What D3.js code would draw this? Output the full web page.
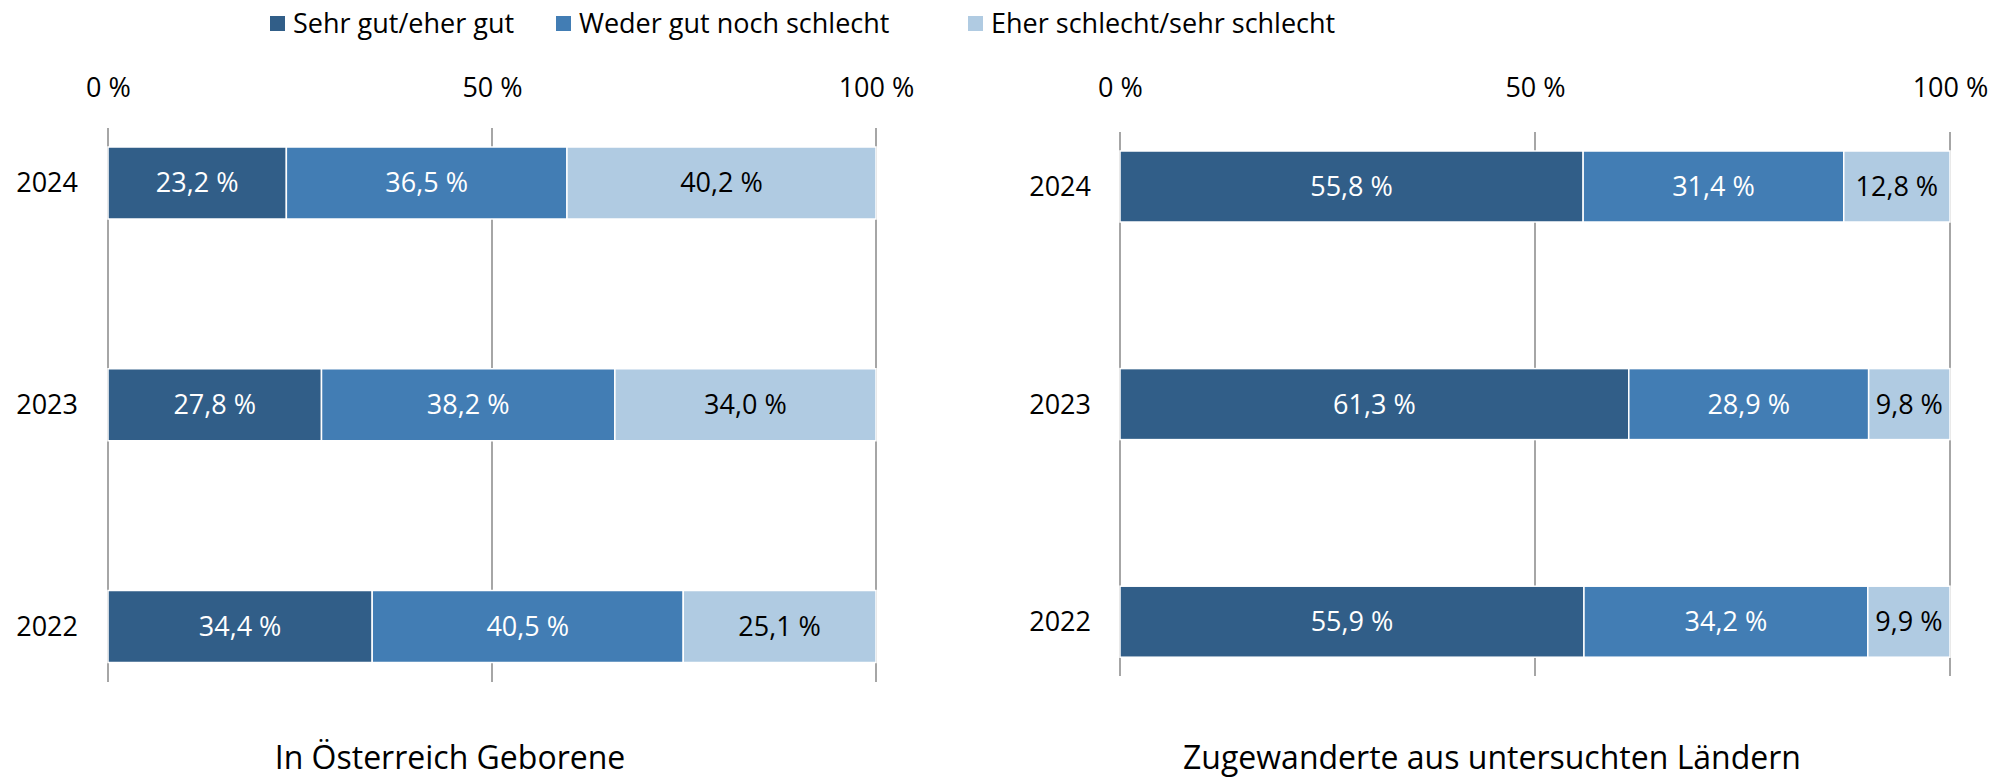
<!DOCTYPE html>
<html>
<head>
<meta charset="utf-8">
<script src="https://cdn.jsdelivr.net/npm/d3@7"></script>
<style>
  body { margin: 0; background: #fff; }
  svg text { font-family: "Open Sans", Lato, sans-serif; }
</style>
</head>
<body>
<svg width="2005" height="778"></svg>
<script>
const categories = ["Sehr gut/eher gut", "Weder gut noch schlecht", "Eher schlecht/sehr schlecht"];
const years = ["2024", "2023", "2022"];
const tickValues = [0, 0.5, 1];
const tickLabels = ["0 %", "50 %", "100 %"];
// values per year, same order as categories
const geboren = [
  [23.2, 36.5, 40.2],
  [27.8, 38.2, 34.0],
  [34.4, 40.5, 25.1]
];
const zugewandert = [
  [55.8, 31.4, 12.8],
  [61.3, 28.9, 9.8],
  [55.9, 34.2, 9.9]
];
const titles = ["In Österreich Geborene", "Zugewanderte aus untersuchten Ländern"];

const colors = ["#315e88", "#427db4", "#b0cbe2"];
const labelColors = ["#fff", "#fff", "#000"];
const svg = d3.select("svg");
const fs = 27;

// panel geometry
const panels = [
  { data: geboren, x0: 108, x1: 876, gridTop: 128, gridBottom: 682, yTop: 183, yBottom: 626.5, barH: 72,
    yearX: 78, titleX: 450, title: titles[0] },
  { data: zugewandert, x0: 1120, x1: 1950, gridTop: 132, gridBottom: 676, yTop: 186.5, yBottom: 621.7, barH: 71,
    yearX: 1091, titleX: 1492, title: titles[1] }
];

const drawPanel = p => {
  const g = svg.append("g");
  const xScale = d3.scaleLinear().domain([0, 1]).range([p.x0, p.x1]);
  const yScale = d3.scalePoint().domain(years).range([p.yTop, p.yBottom]);

  const rows = p.data.map((v, i) => {
    const r = { year: years[i] };
    categories.forEach((c, j) => (r[c] = v[j]));
    return r;
  });
  const series = d3.stack().keys(categories).offset(d3.stackOffsetExpand)(rows);

  // gridlines
  g.selectAll("line.grid")
    .data(tickValues)
    .enter()
    .append("line")
    .attr("x1", d => xScale(d))
    .attr("x2", d => xScale(d))
    .attr("y1", p.gridTop)
    .attr("y2", p.gridBottom)
    .attr("stroke", "#a6a6a6")
    .attr("stroke-width", 2);

  // top axis labels
  const xAxis = d3.axisTop(xScale).tickValues(tickValues).tickFormat((d, i) => tickLabels[i]).tickSize(0).tickPadding(0);
  const ax = g.append("g").attr("transform", "translate(0,88)").call(xAxis);
  ax.select(".domain").remove();
  ax.selectAll("text")
    .attr("font-size", fs)
    .attr("fill", "#000")
    .attr("dy", "0.35em")
    .attr("font-family", "'Open Sans', sans-serif");

  // year labels
  g.selectAll("text.year")
    .data(years)
    .enter()
    .append("text")
    .attr("x", p.yearX)
    .attr("y", d => yScale(d))
    .attr("dy", "0.35em")
    .attr("text-anchor", "end")
    .attr("font-size", fs)
    .text(d => d);

  // bars
  series.forEach((s, k) => {
    g.selectAll(null)
      .data(s)
      .enter()
      .append("rect")
      .attr("x", d => xScale(d[0]))
      .attr("width", d => xScale(d[1]) - xScale(d[0]))
      .attr("y", d => yScale(d.data.year) - p.barH / 2)
      .attr("height", p.barH)
      .attr("fill", colors[k])
      .attr("stroke", "#fff")
      .attr("stroke-width", 1.5);

    g.selectAll(null)
      .data(s)
      .enter()
      .append("text")
      .attr("x", d => (xScale(d[0]) + xScale(d[1])) / 2)
      .attr("y", d => yScale(d.data.year))
      .attr("dy", "0.35em")
      .attr("text-anchor", "middle")
      .attr("font-size", fs)
      .attr("fill", labelColors[k])
      .text(d => d3.format(".1f")(d.data[categories[k]]).replace(".", ",") + " %");
  });

  // title
  g.append("text")
    .attr("x", p.titleX)
    .attr("y", 769)
    .attr("text-anchor", "middle")
    .attr("font-size", 32)
    .text(p.title);
};

panels.forEach(drawPanel);

// legend
const legendX = [270, 556, 968];
const legend = svg.append("g");
categories.forEach((c, i) => {
  legend.append("rect")
    .attr("x", legendX[i])
    .attr("y", 16)
    .attr("width", 15)
    .attr("height", 15)
    .attr("fill", colors[i]);
  legend.append("text")
    .attr("x", legendX[i] + 23)
    .attr("y", 23.5)
    .attr("dy", "0.35em")
    .attr("font-size", fs)
    .text(c);
});
</script>
</body>
</html>
